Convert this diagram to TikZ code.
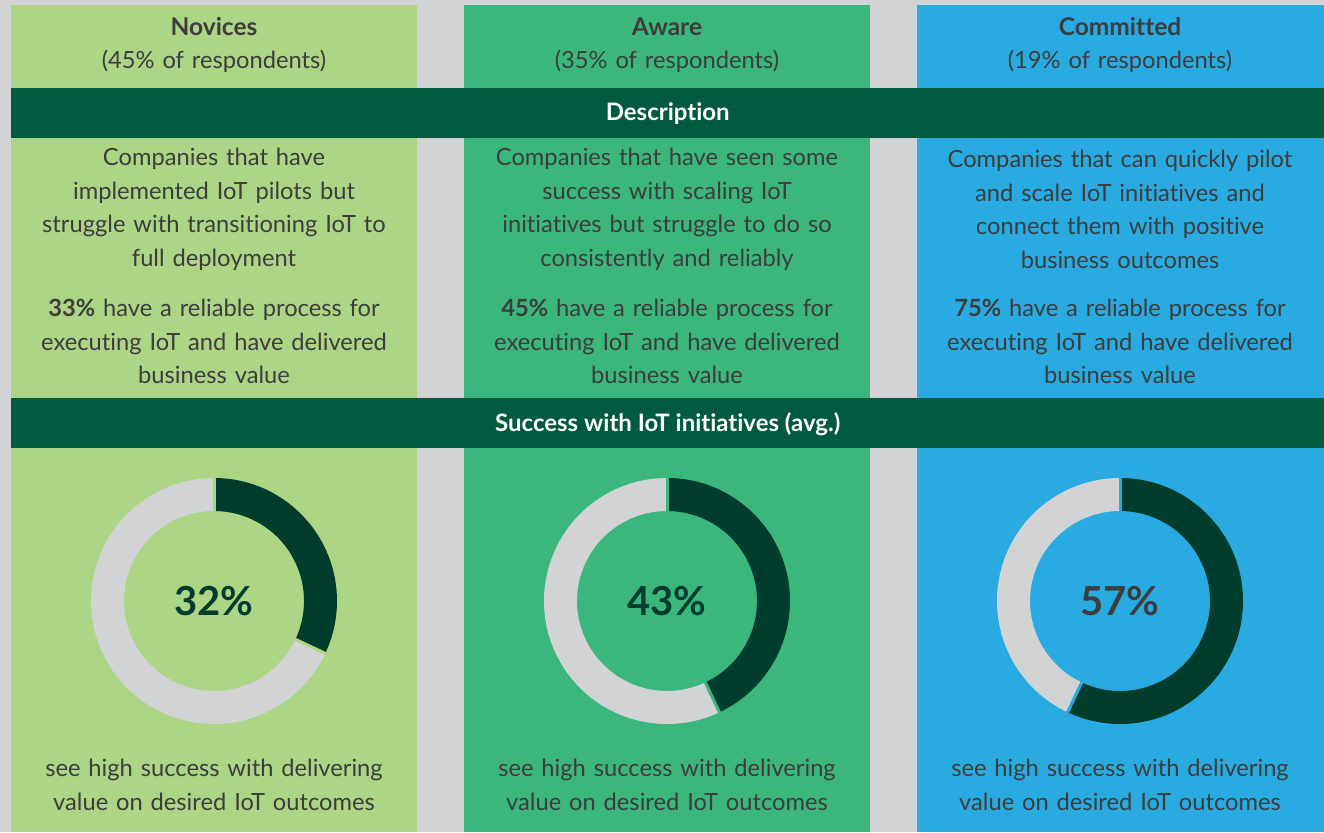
\documentclass[tikz,border=0pt]{standalone}
\usepackage{fontspec}
\setmainfont{Lato}[Ligatures=NoCommon]
\usetikzlibrary{positioning, calc}
\definecolor{bggray}{HTML}{D1D3D4}
\definecolor{novgreen}{HTML}{ACD585}
\definecolor{awagreen}{HTML}{3BB77E}
\definecolor{comblue}{HTML}{29ABE2}
\definecolor{bandgreen}{HTML}{005A3F}
\definecolor{ringdark}{HTML}{003D2C}
\definecolor{txtgray}{HTML}{3D3D3D}

% ring chart: name, centre x, percent, column colour, label colour
\newcommand{\donut}[5]{%
  \pgfmathsetmacro{\ringend}{90-3.6*#3}
  \fill[ringdark] (#2,231) ++(90:123) arc[start angle=90, end angle=\ringend, radius=123]
    -- ($(#2,231)+(\ringend:90)$) arc[start angle=\ringend, end angle=90, radius=90] -- cycle;
  \fill[bggray] ($(#2,231)+(\ringend:123)$) arc[start angle=\ringend, end angle=-270, radius=123]
    -- ($(#2,231)+(90:90)$) arc[start angle=90, end angle=\ringend+360, radius=90] -- cycle;
  \draw[#4, line width=3pt] ($(#2,231)+(90:88)$) -- ($(#2,231)+(90:125)$);
  \draw[#4, line width=3pt] ($(#2,231)+(\ringend:88)$) -- ($(#2,231)+(\ringend:125)$);
  \node[pct, text=#5] (#1) at (#2,231) {#3\%};
}

\begin{document}
\begin{tikzpicture}[x=1pt, y=1pt,
    column/.style={minimum height=827pt, inner sep=0pt, anchor=south west},
    band/.style={fill=bandgreen, minimum width=1313pt, minimum height=50pt, inner sep=0pt,
      text=white, font=\bfseries\fontsize{24}{28}\selectfont},
    body/.style={text=txtgray, align=center, text width=400pt, inner sep=0pt,
      font=\fontsize{23.7}{33.5}\selectfont},
    head/.style={body, font=\bfseries\fontsize{24.5}{28}\selectfont},
    pct/.style={font=\bfseries\fontsize{40}{42}\selectfont}]
  \fill[bggray] (0,0) rectangle (1324,832);
  \useasboundingbox (0,0) rectangle (1324,832);

  % columns
  \node[column, minimum width=406pt, fill=novgreen] (colNov) at (11,0) {};
  \node[column, minimum width=406pt, fill=awagreen] (colAwa) at (464,0) {};
  \node[column, minimum width=407pt, fill=comblue]  (colCom) at (917,0) {};

  % headers
  \node[head] (headNov) at (214,805.5) {Novices};
  \node[body] (shareNov) at (214,771) {(45\% of respondents)};
  \node[head] (headAwa) at (667,805.5) {Aware};
  \node[body] (shareAwa) at (667,771) {(35\% of respondents)};
  \node[head] (headCom) at (1120,805.5) {Committed};
  \node[body] (shareCom) at (1120,771) {(19\% of respondents)};

  % bands
  \node[band, anchor=west, text depth=2pt] (bandDesc) at (11,719) {Description};
  \node[band, anchor=west, text depth=2pt] (bandSucc) at (11,409) {Success with IoT initiatives (avg.)};

  % descriptions
  \node[body] (descNov) at (214,622.5) {Companies that have\\implemented IoT pilots but\\struggle with transitioning IoT to\\full deployment};
  \node[body] (descAwa) at (667,622.5) {Companies that have seen some\\success with scaling IoT\\initiatives but struggle to do so\\consistently and reliably};
  \node[body] (descCom) at (1120,622.5) {Companies that can quickly pilot\\and scale IoT initiatives and\\connect them with positive\\business outcomes};

  \node[body] (statNov) at (214,490.5) {\textbf{33\%} have a reliable process for\\executing IoT and have delivered\\business value};
  \node[body] (statAwa) at (667,490.5) {\textbf{45\%} have a reliable process for\\executing IoT and have delivered\\business value};
  \node[body] (statCom) at (1120,490.5) {\textbf{75\%} have a reliable process for\\executing IoT and have delivered\\business value};

  % rings
  \donut{ringNov}{214}{32}{novgreen}{ringdark}
  \donut{ringAwa}{667}{43}{awagreen}{ringdark}
  \donut{ringCom}{1120}{57}{comblue}{txtgray}

  % footers
  \node[body] (footNov) at (214,47) {see high success with delivering\\value on desired IoT outcomes};
  \node[body] (footAwa) at (667,47) {see high success with delivering\\value on desired IoT outcomes};
  \node[body] (footCom) at (1120,47) {see high success with delivering\\value on desired IoT outcomes};
\end{tikzpicture}
\end{document}
